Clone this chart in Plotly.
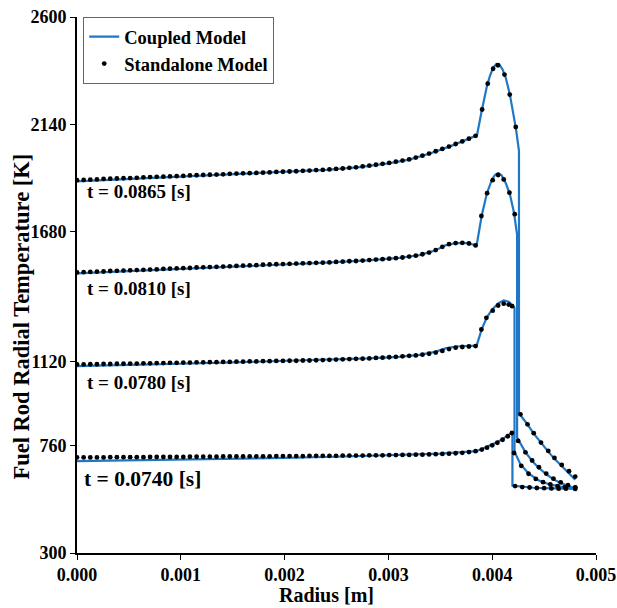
import numpy as np
import plotly.graph_objects as go

# ---------------- data (radius in mm, temperature in K) ----------------
X_TICK_VALUES = [0.000, 0.001, 0.002, 0.003, 0.004, 0.005]
X_TICK_LABELS = ["0.000", "0.001", "0.002", "0.003", "0.004", "0.005"]
Y_TICK_VALUES = [300, 760, 1120, 1680, 2140, 2600]
Y_TICK_LABELS = ["300", "760", "1120", "1680", "2140", "2600"]

TIME_LABELS = ["t = 0.0865 [s]", "t = 0.0810 [s]", "t = 0.0780 [s]", "t = 0.0740 [s]"]

# Standalone model: fuel mesh (mm)
SA_FUEL_R = [
    0.000, 0.064, 0.128, 0.192, 0.256, 0.320, 0.384, 0.448, 0.512, 0.576,
    0.640, 0.704, 0.768, 0.832, 0.896, 0.960, 1.024, 1.088, 1.152, 1.216,
    1.280, 1.344, 1.408, 1.472, 1.536, 1.600, 1.664, 1.728, 1.792, 1.856,
    1.920, 1.984, 2.048, 2.112, 2.176, 2.240, 2.304, 2.368, 2.432, 2.496,
    2.560, 2.624, 2.688, 2.752, 2.816, 2.880, 2.944, 3.008, 3.072, 3.136,
    3.200, 3.264, 3.328, 3.392, 3.456, 3.520, 3.584, 3.648, 3.712, 3.776,
    3.840]

SA_T0865_FUEL = [
    1900, 1901, 1902, 1903, 1905, 1906, 1907, 1908, 1909, 1910,
    1912, 1913, 1914, 1915, 1916, 1917, 1918, 1920, 1921, 1922,
    1923, 1924, 1925, 1927, 1928, 1929, 1930, 1931, 1932, 1933,
    1935, 1936, 1937, 1938, 1940, 1941, 1943, 1944, 1946, 1948,
    1950, 1953, 1955, 1959, 1962, 1966, 1970, 1974, 1979, 1984,
    1989, 1997, 2005, 2014, 2024, 2034, 2044, 2055, 2066, 2078,
    2090]
SA_T0810_FUEL = [
    1504, 1505, 1506, 1507, 1508, 1510, 1511, 1512, 1513, 1514,
    1515, 1516, 1517, 1519, 1520, 1521, 1522, 1523, 1525, 1526,
    1527, 1528, 1529, 1530, 1532, 1533, 1534, 1535, 1537, 1538,
    1539, 1540, 1541, 1542, 1543, 1544, 1545, 1546, 1547, 1549,
    1550, 1552, 1553, 1555, 1557, 1559, 1561, 1563, 1565, 1568,
    1572, 1576, 1582, 1589, 1600, 1614, 1625, 1630, 1631, 1628,
    1620]
SA_T0780_FUEL = [
    1109, 1109, 1110, 1110, 1111, 1111, 1112, 1112, 1113, 1113,
    1114, 1114, 1115, 1115, 1116, 1116, 1117, 1117, 1118, 1118,
    1119, 1119, 1120, 1120, 1121, 1121, 1122, 1122, 1123, 1123,
    1124, 1124, 1125, 1125, 1126, 1126, 1127, 1128, 1129, 1130,
    1131, 1132, 1133, 1134, 1135, 1137, 1138, 1140, 1142, 1144,
    1146, 1148, 1151, 1155, 1160, 1167, 1175, 1181, 1184, 1186,
    1188]
SA_T0740_FUEL = [
    710, 710, 710, 710, 710, 711, 711, 711, 711, 711,
    711, 712, 712, 712, 712, 712, 712, 713, 713, 713,
    713, 713, 714, 714, 714, 714, 715, 715, 715, 715,
    716, 716, 716, 716, 716, 717, 717, 717, 717, 717,
    718, 718, 718, 718, 719, 719, 719, 720, 720, 721,
    721, 722, 722, 723, 724, 725, 726, 728, 730, 733,
    737]

# Standalone model: pellet rim + cladding points (mm, K)
SA_R0865_OUT = [3.903, 3.957, 4.009, 4.055, 4.118, 4.169, 4.227,
                4.272, 4.34, 4.40, 4.47, 4.54, 4.60, 4.67, 4.74, 4.80]
SA_T0865_OUT = [2203, 2314, 2378, 2393, 2353, 2267, 2128,
                895, 852, 814, 774, 738, 708, 678, 651, 628]
SA_R0810_OUT = [3.896, 3.951, 4.005, 4.057, 4.111, 4.166, 4.217,
                4.250, 4.320, 4.385, 4.45, 4.52, 4.59, 4.66, 4.73, 4.80]
SA_T0810_OUT = [1746, 1844, 1900, 1922, 1903, 1846, 1754,
                781, 732, 697, 668, 641, 619, 603, 591, 582]
SA_R0780_OUT = [3.896, 3.944, 4.005, 4.057, 4.111, 4.159, 4.192,
                4.21, 4.28, 4.35, 4.42, 4.49, 4.56, 4.63, 4.70, 4.80]
SA_T0780_OUT = [1259, 1309, 1340, 1362, 1370, 1366, 1359,
                729, 674, 640, 618, 604, 594, 587, 583, 580]
SA_R0740_OUT = [3.90, 3.95, 4.00, 4.05, 4.10, 4.15, 4.19,
                4.22, 4.29, 4.36, 4.43, 4.50, 4.57, 4.64, 4.71, 4.80]
SA_T0740_OUT = [744, 752, 762, 773, 786, 801, 815,
                587, 583, 581, 579, 578, 577, 576, 576, 575]

# Coupled model curves (mm, K)
CP_R0865 = [0, 0.5, 1.0, 1.5, 2.0, 2.4, 2.7, 3.0, 3.2, 3.4, 3.6, 3.853, 3.90, 3.95, 3.98,
            4.01, 4.04, 4.07, 4.10, 4.13, 4.17, 4.20, 4.23, 4.258, 4.258, 4.30, 4.34,
            4.40, 4.47, 4.54, 4.60, 4.67, 4.74, 4.80]
CP_T0865 = [1895, 1905, 1916, 1925, 1935, 1944, 1955, 1972, 1988, 2014, 2046, 2092, 2200, 2305, 2350,
            2383, 2398, 2395, 2375, 2340, 2268, 2200, 2118, 2025, 900, 875, 852,
            812, 772, 735, 704, 672, 642, 614]
CP_R0810 = [0, 0.5, 1.0, 1.5, 2.0, 2.4, 2.8, 3.1, 3.3, 3.45, 3.55, 3.65, 3.75, 3.85, 3.90,
            3.95, 4.00, 4.03, 4.06, 4.09, 4.13, 4.17, 4.21, 4.24, 4.24, 4.32, 4.385,
            4.45, 4.52, 4.59, 4.66, 4.73, 4.80]
CP_T0810 = [1500, 1509, 1518, 1529, 1539, 1546, 1556, 1566, 1578, 1598, 1620, 1630, 1630, 1620, 1750,
            1845, 1905, 1924, 1930, 1921, 1888, 1840, 1760, 1665, 795, 733, 695,
            665, 638, 616, 600, 587, 577]
CP_R0780 = [0, 0.5, 1.0, 1.5, 2.0, 2.4, 2.8, 3.1, 3.3, 3.45, 3.55, 3.65, 3.75, 3.85, 3.90,
            3.95, 4.00, 4.06, 4.11, 4.16, 4.19, 4.215, 4.215, 4.27, 4.35, 4.45, 4.54, 4.66, 4.80]
CP_T0780 = [1102, 1106, 1112, 1118, 1124, 1129, 1135, 1142, 1150, 1163, 1178, 1186, 1187, 1190, 1262,
            1312, 1345, 1372, 1384, 1378, 1365, 1352, 735, 682, 641, 611, 596, 585, 578]
CP_R0740 = [0, 1.0, 2.0, 2.5, 3.0, 3.5, 3.85, 3.95, 4.05, 4.12, 4.195, 4.195,
            4.30, 4.40, 4.50, 4.60, 4.70, 4.80]
CP_T0740 = [694, 700, 708, 713, 719, 726, 737, 755, 776, 795, 818, 589,
            583, 580, 578, 577, 576, 575]

# ---------------- figure ----------------
FONT = "Liberation Serif, Times New Roman, serif"
BLUE = "#1f77c6"

def mm_to_m(values):
    return np.asarray(values, dtype=float) / 1000.0

fig = go.Figure()

coupled = [(CP_R0865, CP_T0865), (CP_R0810, CP_T0810), (CP_R0780, CP_T0780), (CP_R0740, CP_T0740)]
for i, (r, t) in enumerate(coupled):
    fig.add_trace(go.Scatter(
        x=mm_to_m(r), y=t, mode="lines", name="Coupled Model",
        line=dict(color=BLUE, width=2.2), legendgroup="c", showlegend=(i == 0)))

standalone = [
    (SA_T0865_FUEL, SA_R0865_OUT, SA_T0865_OUT),
    (SA_T0810_FUEL, SA_R0810_OUT, SA_T0810_OUT),
    (SA_T0780_FUEL, SA_R0780_OUT, SA_T0780_OUT),
    (SA_T0740_FUEL, SA_R0740_OUT, SA_T0740_OUT),
]
for i, (tf, ro, to) in enumerate(standalone):
    fig.add_trace(go.Scatter(
        x=mm_to_m(list(SA_FUEL_R) + list(ro)), y=list(tf) + list(to),
        mode="markers", name="Standalone Model",
        marker=dict(color="black", size=4.8), legendgroup="s", showlegend=(i == 0)))

label_pos = [(0.00008, 1850, 19), (0.00008, 1437, 19), (0.00008, 1031, 19), (0.00005, 617, 21.5)]
for text, (x, y, s) in zip(TIME_LABELS, label_pos):
    fig.add_annotation(x=x, y=y, xref="x", yref="y", text=text, showarrow=False,
                       xanchor="left", yanchor="middle",
                       font=dict(family=FONT, size=s, color="black", weight="bold"))

# axis titles
fig.add_annotation(x=0.48, y=-0.079, xref="paper", yref="paper", text="Radius [m]",
                   showarrow=False, xanchor="center", yanchor="middle",
                   font=dict(family=FONT, size=20, color="black", weight="bold"))
fig.add_annotation(x=-0.107, y=0.442, xref="paper", yref="paper",
                   text="Fuel Rod Radial Temperature [K]", textangle=-90,
                   showarrow=False, xanchor="center", yanchor="middle",
                   font=dict(family=FONT, size=22.5, color="black", weight="bold"))

axis_common = dict(showline=True, linecolor="black", linewidth=1.6, ticks="outside",
                   ticklen=5, tickwidth=1.4, tickcolor="black", showgrid=False, zeroline=False,
                   mirror=False, automargin=False,
                   tickfont=dict(family=FONT, size=18, color="black", weight="bold"))

fig.update_layout(
    width=617, height=608,
    margin=dict(l=77, r=21, t=17, b=55),
    paper_bgcolor="white", plot_bgcolor="white",
    font=dict(family=FONT, color="black"),
    xaxis=dict(range=[0, 0.005], tickvals=X_TICK_VALUES, ticktext=X_TICK_LABELS, **axis_common),
    yaxis=dict(range=[300, 2600], tickvals=Y_TICK_VALUES, ticktext=Y_TICK_LABELS, **axis_common),
    legend=dict(x=0.012, y=1.0, xanchor="left", yanchor="top",
                bgcolor="white", bordercolor="#56658f", borderwidth=1,
                font=dict(family=FONT, size=18.5, color="black", weight="bold"),
                tracegroupgap=0, itemwidth=30),
    showlegend=True,
)

fig.write_html("out.html")
